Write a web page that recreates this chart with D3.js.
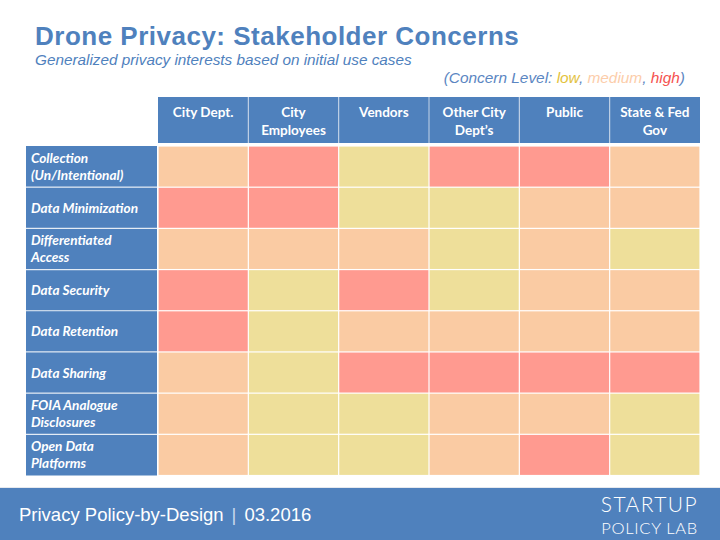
<!DOCTYPE html>
<html>
<head>
<meta charset="utf-8">
<script src="https://cdn.jsdelivr.net/npm/d3@7"></script>
<style>
  html, body { margin: 0; padding: 0; background: #fff; }
  svg { display: block; }
</style>
</head>
<body>
<svg id="chart" width="720" height="540"></svg>
<script>
// ---- data ----
const stakeholders = [["City Dept."], ["City", "Employees"], ["Vendors"], ["Other City", "Dept\u2019s"], ["Public"], ["State & Fed", "Gov"]];
const interests = [["Collection", "(Un/Intentional)"], ["Data Minimization"], ["Differentiated", "Access"], ["Data Security"], ["Data Retention"], ["Data Sharing"], ["FOIA Analogue", "Disclosures"], ["Open Data", "Platforms"]];
const levels = ["low", "medium", "high"];
// concern level per interest (rows) x stakeholder (columns)
const concern = [
  ["medium", "high", "low", "high", "high", "medium"],
  ["high", "high", "low", "low", "medium", "medium"],
  ["medium", "medium", "medium", "low", "medium", "low"],
  ["high", "low", "high", "low", "medium", "medium"],
  ["high", "low", "medium", "medium", "medium", "medium"],
  ["medium", "low", "high", "high", "high", "high"],
  ["medium", "low", "low", "medium", "medium", "low"],
  ["medium", "low", "low", "medium", "high", "low"]
];
const title = "Drone Privacy: Stakeholder Concerns";
const subtitle = "Generalized privacy interests based on initial use cases";
const footerLeft = "Privacy Policy-by-Design";
const footerDate = "03.2016";

// ---- styles ----
const blue = "#4F81BD";
const cellColor = d3.scaleOrdinal().domain(levels).range(["#EEDF9A", "#FACBA3", "#FF9A90"]);
const legendColor = d3.scaleOrdinal().domain(levels).range(["#E3C23E", "#FCCDAA", "#F5524F"]);
const sans = "'Liberation Sans', Arial, Helvetica, sans-serif";
const tableFont = "Lato, 'Open Sans', sans-serif";

const svg = d3.select("#chart");

// ---- title block ----
svg.append("text").attr("x", 35).attr("y", 45)
  .attr("font-family", sans).attr("font-weight", "bold").attr("font-size", 26)
  .attr("letter-spacing", 0.5)
  .attr("fill", blue).text(title);
svg.append("text").attr("x", 35).attr("y", 65)
  .attr("font-family", sans).attr("font-style", "italic").attr("font-size", 15.3)
  .attr("fill", blue).text(subtitle);

const legend = svg.append("text").attr("x", 685).attr("y", 83).attr("text-anchor", "end")
  .attr("font-family", sans).attr("font-style", "italic").attr("font-size", 15.4)
  .attr("fill", "#5B86C2");
legend.append("tspan").text("(Concern Level: ");
levels.forEach((l, i) => {
  legend.append("tspan").attr("fill", legendColor(l)).text(l);
  legend.append("tspan").text(i < levels.length - 1 ? ", " : ")");
});

// ---- scales ----
const x = d3.scaleBand().domain(d3.range(stakeholders.length)).range([158, 700]);
const y = d3.scaleBand().domain(d3.range(interests.length)).range([146, 475.5]);
const headTop = 97, headBottom = 143;
const labelLeft = 26, labelRight = 157;

// header cells
const head = svg.append("g");
head.selectAll("rect").data(stakeholders).join("rect")
  .attr("x", (d, i) => x(i)).attr("y", headTop)
  .attr("width", x.bandwidth()).attr("height", headBottom - headTop)
  .attr("fill", blue);
head.selectAll("line").data(d3.range(1, stakeholders.length)).join("line")
  .attr("x1", i => x(i)).attr("x2", i => x(i))
  .attr("y1", headTop).attr("y2", headBottom)
  .attr("stroke", "#ffffff").attr("stroke-opacity", 0.55).attr("stroke-width", 1.2);
head.selectAll("text").data(stakeholders).join("text")
  .attr("text-anchor", "middle")
  .attr("font-family", tableFont).attr("font-weight", "bold").attr("font-size", 13.5)
  .attr("fill", "#fff")
  .each(function(d, i) {
    const t = d3.select(this);
    d.forEach((line, k) => {
      t.append("tspan").attr("x", x(i) + x.bandwidth() / 2).attr("y", 117 + k * 17.5).text(line);
    });
  });

// row label cells
const rowG = svg.append("g");
rowG.selectAll("rect").data(interests).join("rect")
  .attr("x", labelLeft).attr("y", (d, i) => y(i))
  .attr("width", labelRight - labelLeft).attr("height", y.bandwidth())
  .attr("fill", blue);
rowG.selectAll("line").data(d3.range(1, interests.length)).join("line")
  .attr("x1", labelLeft).attr("x2", labelRight)
  .attr("y1", i => y(i)).attr("y2", i => y(i))
  .attr("stroke", "#ffffff").attr("stroke-opacity", 0.8).attr("stroke-width", 1.2);
rowG.selectAll("text").data(interests).join("text")
  .attr("font-family", tableFont).attr("font-weight", "bold").attr("font-style", "italic")
  .attr("font-size", 13.6).attr("fill", "#fff")
  .each(function(d, i) {
    const t = d3.select(this);
    const cy = y(i) + y.bandwidth() / 2;
    const start = cy + 5 - (d.length - 1) * 8.5;
    d.forEach((line, k) => {
      t.append("tspan").attr("x", 31).attr("y", start + k * 17).text(line);
    });
  });

// matrix cells
const cells = [];
concern.forEach((row, r) => row.forEach((lvl, c) => cells.push({ r, c, lvl })));
svg.append("g").selectAll("rect").data(cells).join("rect")
  .attr("x", d => x(d.c) + 0.6).attr("y", d => y(d.r) + 0.6)
  .attr("width", x.bandwidth() - 1.2).attr("height", y.bandwidth() - 1.2)
  .attr("fill", d => cellColor(d.lvl));

// ---- footer ----
svg.append("line").attr("x1", 0).attr("x2", 720).attr("y1", 487.5).attr("y2", 487.5)
  .attr("stroke", "#E6E9EE").attr("stroke-width", 1);
svg.append("rect").attr("x", 0).attr("y", 488).attr("width", 720).attr("height", 52).attr("fill", blue);
const ft = svg.append("text").attr("x", 19).attr("y", 521)
  .attr("font-family", sans).attr("font-size", 18.5).attr("fill", "#fff");
ft.append("tspan").text(footerLeft);
ft.append("tspan").attr("dx", 8).attr("fill", "#C9D8EC").text("|");
ft.append("tspan").attr("dx", 8).text(footerDate);

svg.append("text").attr("x", 698).attr("y", 512).attr("text-anchor", "end")
  .attr("font-family", "Lato, sans-serif").attr("font-weight", 300)
  .attr("font-size", 21).attr("fill", "#fff").attr("letter-spacing", 1.4).text("STARTUP");
svg.append("text").attr("x", 698).attr("y", 533.5).attr("text-anchor", "end")
  .attr("font-family", "Lato, sans-serif").attr("font-weight", 300)
  .attr("font-size", 16.5).attr("fill", "#fff").attr("letter-spacing", 0.7).text("POLICY LAB");
</script>
</body>
</html>
